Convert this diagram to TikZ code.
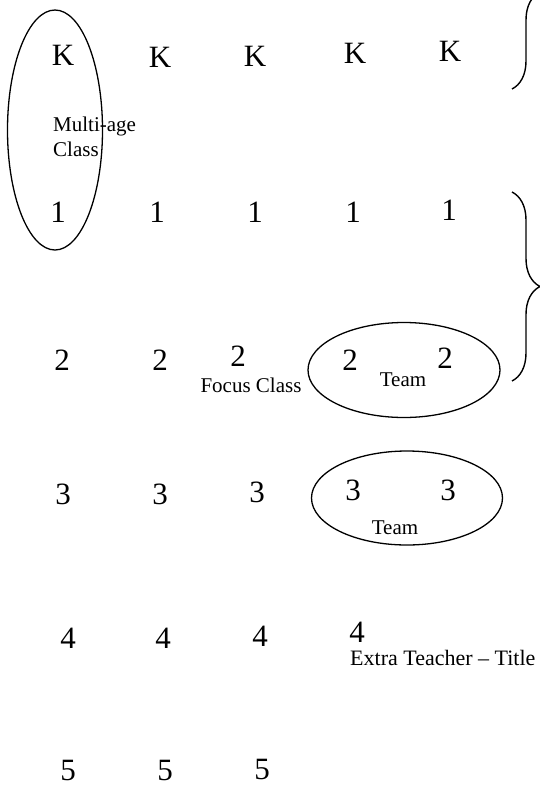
\documentclass[tikz,border=0pt]{standalone}
\usepackage{fontspec}
\setmainfont{Liberation Serif}
\usetikzlibrary{shapes.geometric,decorations.pathreplacing}

\begin{document}
\begin{tikzpicture}[x=1pt,y=-1pt,
  grade/.style={inner sep=0pt,font=\fontsize{31}{33}\selectfont},
  lbl/.style={inner sep=0pt,font=\fontsize{21}{21}\selectfont},
  grp/.style={draw,ellipse,line width=1.3pt,inner sep=0pt},
  brc/.style={decorate,decoration={brace,amplitude=28pt},line width=1.4pt}]
\useasboundingbox (0,0) rectangle (540,793);
\clip (0,0) rectangle (540,793);
% groups
\node[grp,minimum width=95,minimum height=240] (multi)at(55,130){};
\node[grp,minimum width=192,minimum height=95] (team2)at(404,370){};
\node[grp,minimum width=191,minimum height=94] (team3)at(407,498){};
% K row
\node[grade] (k1)at(63,55){K};
\node[grade] (k2)at(160,57){K};
\node[grade] (k3)at(255,56){K};
\node[grade] (k4)at(355,53){K};
\node[grade] (k5)at(450,51){K};
% grade 1
\node[grade] (a1)at(58,212){1};
\node[grade] (a2)at(157,212){1};
\node[grade] (a3)at(255,212){1};
\node[grade] (a4)at(353,212){1};
\node[grade] (a5)at(449,210){1};
% grade 2
\node[grade] (b1)at(62,360){2};
\node[grade] (b2)at(160,360){2};
\node[grade] (b3)at(238,356){2};
\node[grade] (b4)at(350,360){2};
\node[grade] (b5)at(445,358){2};
% grade 3
\node[grade] (c1)at(63,494){3};
\node[grade] (c2)at(160,494){3};
\node[grade] (c3)at(257,492){3};
\node[grade] (c4)at(353,490){3};
\node[grade] (c5)at(448,490){3};
% grade 4
\node[grade] (d1)at(68,638){4};
\node[grade] (d2)at(163,638){4};
\node[grade] (d3)at(260,636){4};
\node[grade] (d4)at(357,632){4};
% grade 5
\node[grade] (e1)at(68,770){5};
\node[grade] (e2)at(165,770){5};
\node[grade] (e3)at(262,769){5};
% labels
\node[lbl,anchor=base west] (ma)at(53,131){Multi-age};
\node[lbl,anchor=base west] (cl)at(53,156){Class};
\node[lbl] (focus)at(251,385){Focus Class};
\node[lbl] (tm2)at(403,380){Team};
\node[lbl] (tm3)at(395,528){Team};
\node[lbl,anchor=base west,font=\fontsize{22}{22}\selectfont] (extra)at(350,665){Extra Teacher -- Title I};
% braces
\coordinate (u1)at(512,-105);
\coordinate (u2)at(512,89);
\coordinate (v1)at(512,192);
\coordinate (v2)at(512,381);
\draw[brc] (u1) -- (u2);
\draw[brc] (v1) -- (v2);
\end{tikzpicture}
\end{document}
